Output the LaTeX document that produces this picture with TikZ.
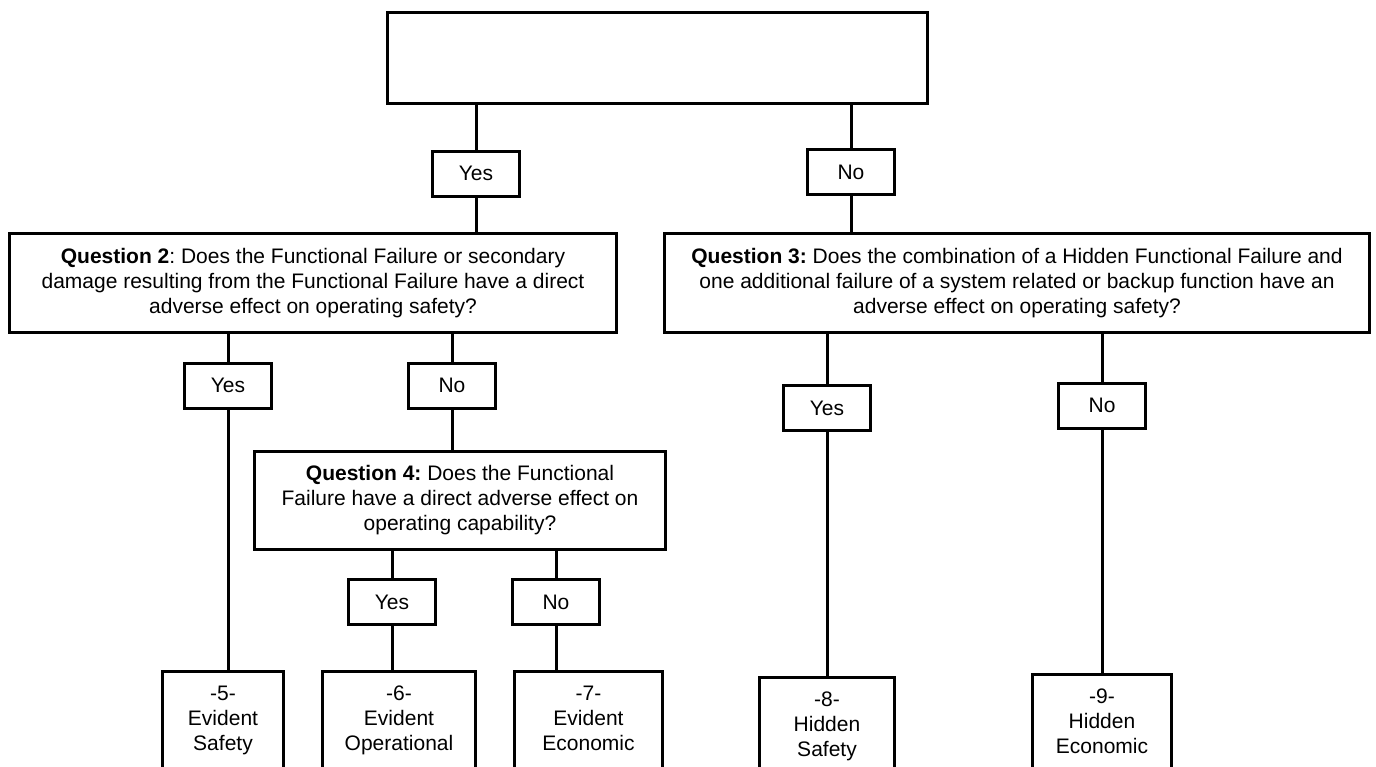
\documentclass[tikz,border=0pt]{standalone}
\usepackage{fontspec}
\setmainfont{Liberation Sans}
\frenchspacing
\begin{document}
\begin{tikzpicture}[x=1pt,y=-1pt,
  every node/.style={font=\fontsize{21}{25}\selectfont},
  box/.style={draw,line width=3pt,inner sep=0pt,align=center},
  answer/.style={box,minimum width=87pt,minimum height=45pt},
  leaf/.style={draw,line width=3pt,anchor=north,align=center,inner xsep=0pt,inner ysep=15pt,text depth=60pt},
  link/.style={line width=3pt}]
\useasboundingbox (0,0) rectangle (1376,766);
%top
\node[box,minimum width=540pt,minimum height=91pt] (top) at (657.5,58) {};
\node[answer] (yes1) at (476,173.5) {Yes};
\node[answer] (no1) at (851,172) {No};
%Q2
\node[box,minimum width=607pt,minimum height=99pt] (q2) at (313,283)
  {\textbf{Question 2}: Does the Functional Failure or secondary\\
   damage resulting from the Functional Failure have a direct\\
   adverse effect on operating safety?};
\node[answer] (yes2) at (228,385.5) {Yes};
\node[answer] (no2) at (452,385.5) {No};
%Q3
\node[box,minimum width=705pt,minimum height=99pt] (q3) at (1017,283)
  {\textbf{Question 3:} Does the combination of a Hidden Functional Failure and\\
   one additional failure of a system related or backup function have an\\
   adverse effect on operating safety?};
\node[answer] (yes3) at (827,408) {Yes};
\node[answer] (no3) at (1102,405.5) {No};
%Q4
\node[box,minimum width=411pt,minimum height=98pt] (q4) at (460,500.5)
  {\textbf{Question 4:} Does the Functional\\
   Failure have a direct adverse effect on\\
   operating capability?};
\node[answer] (yes4) at (392,602) {Yes};
\node[answer] (no4) at (556,602) {No};
%results
\node[leaf,minimum width=121pt] (leaf5) at (223,669.5) {-5-\\Evident\\Safety};
\node[leaf,minimum width=153pt] (leaf6) at (399,669.5) {-6-\\Evident\\Operational};
\node[leaf,minimum width=148pt] (leaf7) at (588.5,669.5) {-7-\\Evident\\Economic};
\node[leaf,minimum width=135pt] (leaf8) at (827,675.5) {-8-\\Hidden\\Safety};
\node[leaf,minimum width=139pt] (leaf9) at (1102,672.5) {-9-\\Hidden\\Economic};
%links
\draw[link] (top.south -| yes1) -- (yes1.north);
\draw[link] (yes1.south) -- (yes1.south |- q2.north);
\draw[link] (top.south -| no1) -- (no1.north);
\draw[link] (no1.south) -- (no1.south |- q3.north);
\draw[link] (q2.south -| yes2) -- (yes2.north);
\draw[link] (yes2.south) -- (yes2.south |- leaf5.north);
\draw[link] (q2.south -| no2) -- (no2.north);
\draw[link] (no2.south) -- (no2.south |- q4.north);
\draw[link] (q3.south -| yes3) -- (yes3.north);
\draw[link] (yes3.south) -- (yes3.south |- leaf8.north);
\draw[link] (q3.south -| no3) -- (no3.north);
\draw[link] (no3.south) -- (no3.south |- leaf9.north);
\draw[link] (q4.south -| yes4) -- (yes4.north);
\draw[link] (yes4.south) -- (yes4.south |- leaf6.north);
\draw[link] (q4.south -| no4) -- (no4.north);
\draw[link] (no4.south) -- (no4.south |- leaf7.north);
\end{tikzpicture}
\end{document}
